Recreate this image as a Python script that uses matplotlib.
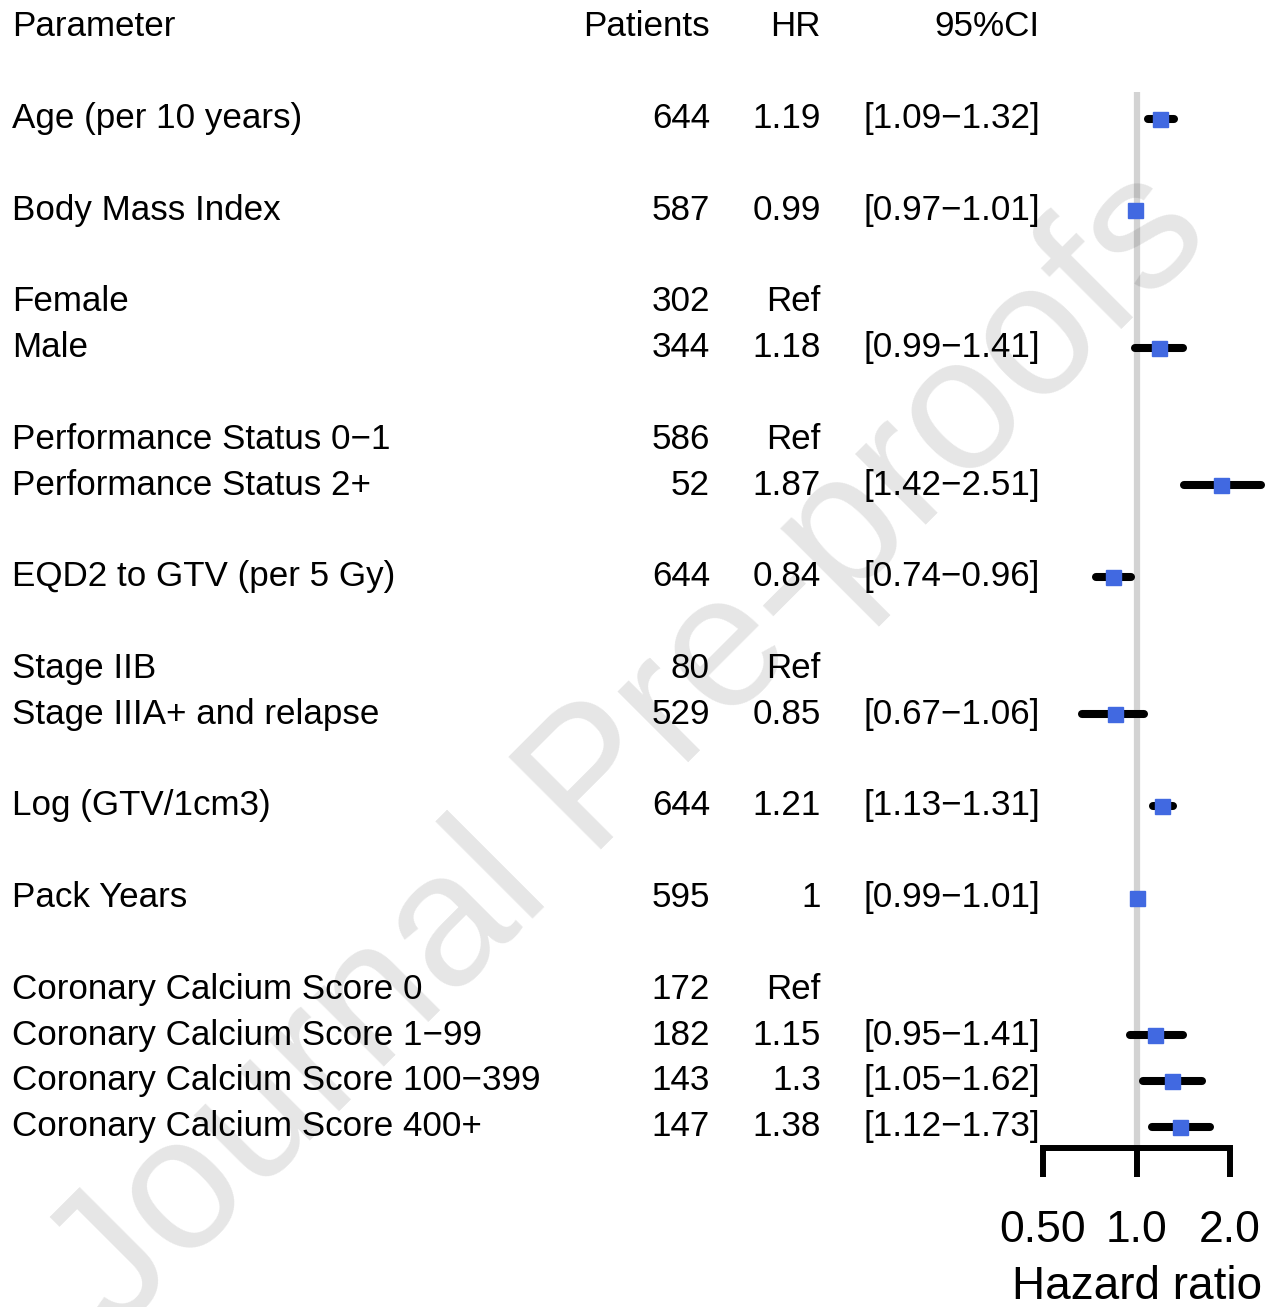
import numpy as np
import matplotlib.pyplot as plt
import matplotlib.transforms as mtransforms

plt.rcParams['font.family'] = ['Liberation Sans', 'DejaVu Sans']

# Groups of parameters; a blank row separates each group
groups = [
    ["Age (per 10 years)"],
    ["Body Mass Index"],
    ["Female", "Male"],
    ["Performance Status 0\u22121", "Performance Status 2+"],
    ["EQD2 to GTV (per 5 Gy)"],
    ["Stage IIB", "Stage IIIA+ and relapse"],
    ["Log (GTV/1cm3)"],
    ["Pack Years"],
    ["Coronary Calcium Score 0", "Coronary Calcium Score 1\u221299",
     "Coronary Calcium Score 100\u2212399", "Coronary Calcium Score 400+"],
]
patients = [644, 587, 302, 344, 586, 52, 644, 80, 529, 644, 595, 172, 182, 143, 147]
hr_text = ["1.19", "0.99", "Ref", "1.18", "Ref", "1.87", "0.84", "Ref", "0.85",
           "1.21", "1", "Ref", "1.15", "1.3", "1.38"]
hr = [1.19, 0.99, np.nan, 1.18, np.nan, 1.87, 0.84, np.nan, 0.85,
      1.21, 1.0, np.nan, 1.15, 1.3, 1.38]
ci_low = [1.09, 0.97, np.nan, 0.99, np.nan, 1.42, 0.74, np.nan, 0.67,
          1.13, 0.99, np.nan, 0.95, 1.05, 1.12]
ci_high = [1.32, 1.01, np.nan, 1.41, np.nan, 2.51, 0.96, np.nan, 1.06,
           1.31, 1.01, np.nan, 1.41, 1.62, 1.73]
x_ticks = [0.5, 1.0, 2.0]
x_tick_labels = ["0.50", "1.0", "2.0"]

# row positions: header on row 0, groups start on row 2
labels, rows = [], []
r = 2
for g in groups:
    for name in g:
        labels.append(name)
        rows.append(r)
        r += 1
    r += 1
rows = np.array(rows)

W, H = 1274, 1307
fig = plt.figure(figsize=(W / 100, H / 100), dpi=100)

row_px = 45.82
top_px, spine_px = 27, 1148
y_bottom = (spine_px - top_px) / row_px
y_top = -top_px / row_px
ax = fig.add_axes([1043 / W, 1 - spine_px / H, (1230 - 1043) / W, spine_px / H])
ax.set_xscale('log', base=2)
ax.set_xlim(0.5, 2.0)
ax.set_ylim(y_bottom, y_top)

# reference line at HR = 1
ax.vlines(1.0, (92 - top_px) / row_px, y_bottom, color='#d3d3d3', lw=4.5, zorder=1)

hr = np.array(hr)
ok = ~np.isnan(hr)
ax.hlines(rows[ok], np.array(ci_low)[ok], np.array(ci_high)[ok], color='black',
          lw=5.8, capstyle='round', zorder=2, clip_on=False)
ax.plot(hr[ok], rows[ok], 's', color='#4169E1', ms=10.8, mec='#4169E1', zorder=3,
        clip_on=False)

for s in ['top', 'right', 'left']:
    ax.spines[s].set_visible(False)
ax.spines['bottom'].set_linewidth(4.3)
ax.set_yticks([])
ax.set_xticks(x_ticks)
ax.set_xticklabels(x_tick_labels)
ax.minorticks_off()
ax.tick_params(axis='x', direction='out', length=21, width=4.3, pad=24, labelsize=32)
ax.set_xlabel("Hazard ratio", fontsize=33, labelpad=10)
ax.patch.set_alpha(0)

# text columns: x in figure fraction, y on the rows of the forest axes
tr = mtransforms.blended_transform_factory(fig.transFigure, ax.transData)
fs = 25.2
cols = [(12 / W, 'left'), (710 / W, 'right'), (821 / W, 'right'), (1040 / W, 'right')]
headers = ["Parameter", "Patients", "HR", "95%CI"]
for (x, ha), h in zip(cols, headers):
    fig.text(x, 0, h, transform=tr, ha=ha, va='center', fontsize=fs)

for i, y in enumerate(rows):
    fig.text(cols[0][0], y, labels[i], transform=tr, ha='left', va='center', fontsize=fs)
    fig.text(cols[1][0], y, str(patients[i]), transform=tr, ha='right', va='center', fontsize=fs)
    fig.text(cols[2][0], y, hr_text[i], transform=tr, ha='right', va='center', fontsize=fs)
    if not np.isnan(ci_low[i]):
        ci = f"[{ci_low[i]:.2f}\u2212{ci_high[i]:.2f}]"
        fig.text(cols[3][0], y, ci, transform=tr, ha='right', va='center', fontsize=fs)

fig.text(0.495, 0.425, "Journal Pre-proofs", rotation=45, fontsize=136,
         color='black', alpha=0.1, ha='center', va='center', zorder=10)

fig.savefig("out.png", dpi=100)
